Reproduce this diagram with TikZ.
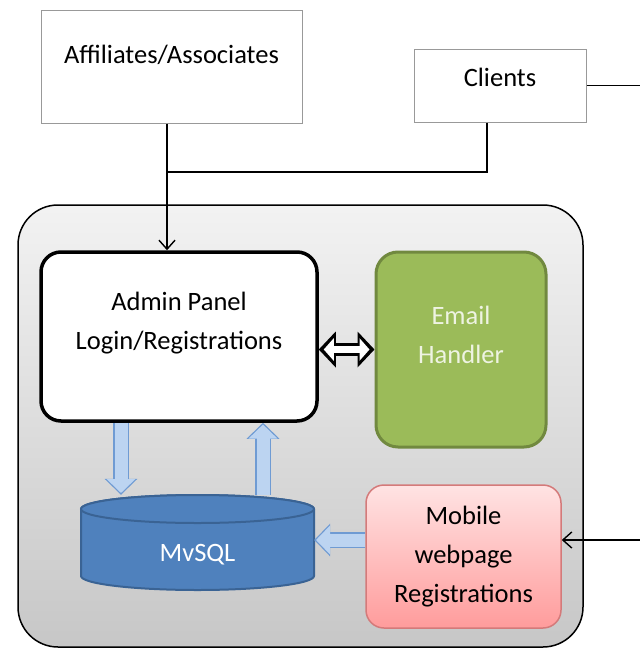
\documentclass[tikz,border=0pt]{standalone}
\usepackage{fontspec}
\setmainfont{Carlito}
\usetikzlibrary{arrows.meta}
\definecolor{mailgreen}{HTML}{9BBB59}
\definecolor{mailedge}{HTML}{71893F}
\definecolor{mailtext}{HTML}{EEF3E2}
\definecolor{dbblue}{HTML}{4F81BD}
\definecolor{dbedge}{HTML}{3A6394}
\definecolor{flowfill}{HTML}{BCD4F1}
\definecolor{flowedge}{HTML}{6F9BD3}
\definecolor{mobtop}{HTML}{FFE3E3}
\definecolor{mobbottom}{HTML}{FF9C9C}
\definecolor{mobedge}{HTML}{D47A7A}

\begin{document}
\begin{tikzpicture}[x=1pt,y=-1pt,
  font=\fontsize{26.5}{39}\selectfont,
  party/.style={draw=black!40, line width=1pt, fill=white, inner sep=0pt},
  frame/.style={draw=black, line width=1.5pt, rounded corners=40pt, top color=black!5, bottom color=black!22, inner sep=0pt},
  panel/.style={draw=black, line width=3.5pt, fill=white, rounded corners=20pt, inner sep=0pt},
  mailbox/.style={draw=mailedge, line width=3pt, fill=mailgreen, rounded corners=22pt, inner sep=0pt},
  mobbox/.style={draw=mobedge, line width=1.5pt, top color=mobtop, bottom color=mobbottom, rounded corners=18pt, inner sep=0pt},
  dbshape/.style={draw=dbedge, line width=2pt, fill=dbblue},
  link/.style={line width=1.4pt},
  linkto/.style={link, -{Straight Barb[length=9pt,width=16pt]}},
  flow/.style={line width=13pt, draw=flowfill, -{Triangle[width=28pt,length=14pt]}, shorten >=1.8pt,
    preaction={draw=flowedge, line width=15.5pt, -{Triangle[width=32pt,length=16pt]}, shorten >=0pt}},
  duplex/.style={line width=6.5pt, draw=white, {Triangle[width=22pt,length=10pt]}-{Triangle[width=22pt,length=10pt]},
    shorten >=5pt, shorten <=5pt,
    preaction={draw=black, line width=13.5pt, {Triangle[width=35pt,length=17pt]}-{Triangle[width=35pt,length=17pt]}, shorten >=0pt, shorten <=0pt}}
]
\useasboundingbox (0,0) rectangle (640,651);
\fill[white] (0,0) rectangle (640,651);
\clip (0,0) rectangle (640,651);

% outside parties
\node[party, minimum width=261pt, minimum height=113pt, label={[yshift=11.5pt]center:Affiliates/Associates}] (aff) at (171.5,66.5) {};
\node[party, minimum width=172pt, minimum height=73pt, label={[yshift=8.5pt]center:Clients}] (cli) at (500,85.5) {};

% system
\node[frame, minimum width=565pt, minimum height=442pt] (sys) at (300.5,426) {};
\node[panel, minimum width=276pt, minimum height=169pt, label={[align=center,yshift=13pt]center:Admin Panel\\Login/Registrations}] (admin) at (179,336.5) {};
\node[mailbox, minimum width=170pt, minimum height=195pt, label={[align=center,yshift=14.5pt,text=mailtext]center:Email\\Handler}] (mail) at (461,349.5) {};
\node[mobbox, minimum width=195pt, minimum height=143pt, align=center] (mob) at (463.5,556.5) {Mobile\\webpage\\Registrations};

% database
\filldraw[dbshape] (81,509) -- (81,576) arc[start angle=180,end angle=360,x radius=116.5pt,y radius=14pt]
  -- (314,509) arc[start angle=0,end angle=180,x radius=116.5pt,y radius=14pt] -- cycle;
\draw[dbshape] (197.5,509) ellipse[x radius=116.5pt,y radius=14pt];
\node[minimum width=233pt, minimum height=95pt, inner sep=0pt, label={[yshift=-12.5pt,text=white]center:MvSQL}] (db) at (197.5,542.5) {};

% connectors
\coordinate (hub) at (167,172);
\coordinate (rim) at (680,540);
\draw[link] ([xshift=-13pt]cli.south) |- (hub);
\draw[linkto] (aff.south -| hub) -- (hub |- admin.north);
\draw[linkto] (cli.east) -| (rim) -- (rim -| mob.east);
\draw[duplex] (admin.east |- mail.west) -- (mail.west);
\draw[flow] ([xshift=-58pt]admin.south) -- ([xshift=-58pt]admin.south |- db.north);
\draw[flow] ([xshift=84pt]admin.south |- db.north) -- ([xshift=84pt]admin.south);
\draw[flow] (mob.west |- rim) -- (db.east |- rim);
\end{tikzpicture}
\end{document}
